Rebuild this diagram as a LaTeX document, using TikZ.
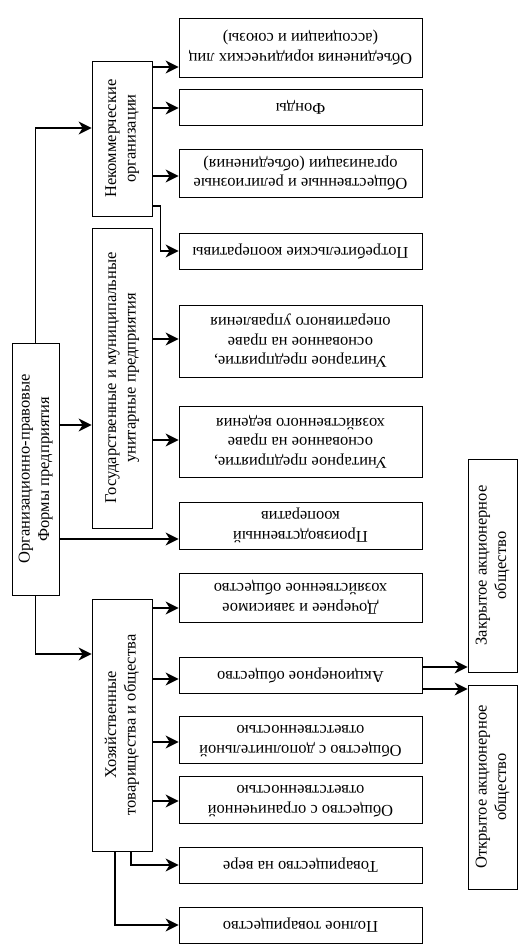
\documentclass[tikz,border=0pt]{standalone}
\usepackage{fontspec}
\setmainfont{Liberation Serif}
\usepackage{graphicx}
\usetikzlibrary{arrows.meta}

\newcommand{\upturn}[1]{\rotatebox[origin=c]{90}{\begin{tabular}{@{}c@{}}#1\end{tabular}}}
\newcommand{\overturn}[1]{\rotatebox[origin=c]{180}{\begin{tabular}{@{}c@{}}#1\end{tabular}}}

\tikzset{
  box/.style={draw, line width=0.8pt, inner sep=0pt, font=\fontsize{16.5}{19.5}\selectfont},
  lbox/.style={box, minimum width=60pt, minimum height=#1},
  rbox/.style={box, minimum width=243pt, minimum height=#1},
  sbox/.style={box, minimum width=49pt, minimum height=#1},
  arr/.style={-{Stealth[length=13pt, width=13pt, inset=4pt]}, line width=1.4pt},
}

\begin{document}
\begin{tikzpicture}[x=1pt, y=-1pt]
  \useasboundingbox (0,0) rectangle (529,952);

  % -- Root --
  \node[box, minimum width=47pt, minimum height=252pt] (root) at (35.5,469) {\upturn{Организационно-правовые\\Формы предприятия}};

  % -- Groups --
  \node[lbox=155pt] (nekomm) at (122,138.5) {\upturn{Некоммерческие\\организации}};
  \node[lbox=300pt] (gos) at (122,378) {\upturn{Государственные и муниципальные\\унитарные предприятия}};
  \node[lbox=252pt] (hoz) at (122,725) {\upturn{Хозяйственные\\товарищества и общества}};

  % -- Forms --
  \node[rbox=59pt] (obed) at (300.5,47.5) {\overturn{Объединения юридических лиц\\(ассоциации и союзы)}};
  \node[rbox=36pt] (fond) at (300.5,107) {\overturn{Фонды}};
  \node[rbox=48pt] (obsch) at (300.5,173) {\overturn{Общественные и религиозные\\организации (объединения)}};
  \node[rbox=36pt] (potreb) at (300.5,251) {\overturn{Потребительские кооперативы}};
  \node[rbox=72pt] (unitop) at (300.5,341) {\overturn{Унитарное предприятие,\\основанное на праве\\оперативного управления}};
  \node[rbox=71pt] (unithoz) at (300.5,441.5) {\overturn{Унитарное предприятие,\\основанное на праве\\хозяйственного ведения}};
  \node[rbox=47pt] (proizv) at (300.5,525.5) {\overturn{Производственный\\кооператив}};
  \node[rbox=49pt] (doch) at (300.5,597.5) {\overturn{Дочернее и зависимое\\хозяйственное общество}};
  \node[rbox=36pt] (akc) at (300.5,675) {\overturn{Акционерное общество}};
  \node[rbox=47pt] (dop) at (300.5,739.5) {\overturn{Общество с дополнительной\\ответственностью}};
  \node[rbox=47pt] (ogr) at (300.5,799.5) {\overturn{Общество с ограниченной\\ответственностью}};
  \node[rbox=36pt] (vera) at (300.5,865) {\overturn{Товарищество на вере}};
  \node[rbox=36pt] (poln) at (300.5,925) {\overturn{Полное товарищество}};

  % -- Joint-stock kinds --
  \node[sbox=213pt] (zao) at (492.5,565.5) {\upturn{Закрытое акционерное\\общество}};
  \node[sbox=204pt] (oao) at (492.5,787) {\upturn{Открытое акционерное\\общество}};

  % -- Root links --
  \draw[arr] (root.north) |- (nekomm.west |- 0,128);
  \draw[arr] (root.east |- 0,425) -- (gos.west |- 0,425);
  \draw[arr] (root.east |- 0,539) -- (proizv.west |- 0,539);
  \draw[arr] (root.south) |- (hoz.west |- 0,654);

  % -- Non-commercial --
  \draw[arr] (nekomm.east |- 0,67) -- (obed.west |- 0,67);
  \draw[arr] (nekomm.east |- 0,108) -- (fond.west |- 0,108);
  \draw[arr] (nekomm.east |- 0,176) -- (obsch.west |- 0,176);
  \draw[arr] (nekomm.east |- 0,206) -- ++(8,0) |- (potreb.west);

  % -- Unitary --
  \draw[arr] (gos.east |- 0,339) -- (unitop.west |- 0,339);
  \draw[arr] (gos.east |- 0,440) -- (unithoz.west |- 0,440);

  % -- Business --
  \draw[arr] (hoz.east |- 0,608) -- (doch.west |- 0,608);
  \draw[arr] (hoz.east |- 0,679) -- (akc.west |- 0,679);
  \draw[arr] (hoz.east |- 0,742) -- (dop.west |- 0,742);
  \draw[arr] (hoz.east |- 0,801) -- (ogr.west |- 0,801);
  \draw[arr] (hoz.south -| 131,0) |- (vera.west);
  \draw[arr] (hoz.south -| 115,0) |- (poln.west);

  % -- Joint-stock --
  \draw[arr] (akc.east |- 0,667) -- (zao.west |- 0,667);
  \draw[arr] (akc.east |- 0,689) -- (oao.west |- 0,689);

\end{tikzpicture}
\end{document}
